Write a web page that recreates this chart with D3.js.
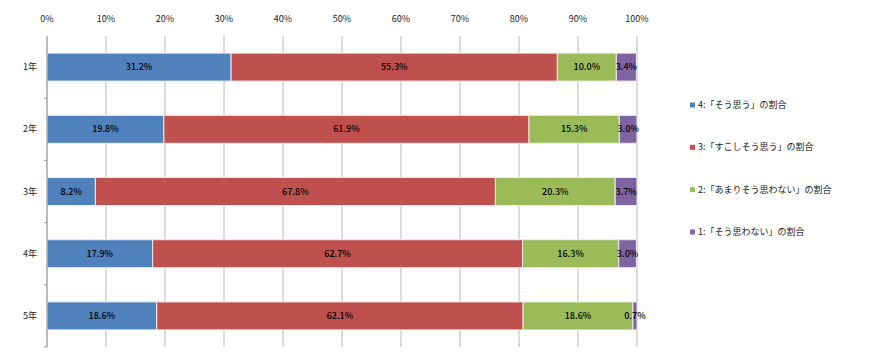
<!DOCTYPE html>
<html>
<head>
<meta charset="utf-8">
<script src="https://cdn.jsdelivr.net/npm/d3@7"></script>
<style>
  body { margin: 0; background: #fff; }
  text { font-family: "Noto Sans CJK JP", "DejaVu Sans", sans-serif; }
</style>
</head>
<body>
<div id="chart"></div>
<script>
// Data
var grades = ["1年", "2年", "3年", "4年", "5年"];
var seriesNames = ["4:「そう思う」の割合", "3:「すこしそう思う」の割合", "2:「あまりそう思わない」の割合", "1:「そう思わない」の割合"];
var s4 = [31.2, 19.8, 8.2, 17.9, 18.6];
var s3 = [55.3, 61.9, 67.8, 62.7, 62.1];
var s2 = [10.0, 15.3, 20.3, 16.3, 18.6];
var s1 = [3.4, 3.0, 3.7, 3.0, 0.7];
var colors = ["#4F81BD", "#C0504D", "#9BBB59", "#8064A2"];
var tickValues = [0, 10, 20, 30, 40, 50, 60, 70, 80, 90, 100];

var svgWidth = 870, svgHeight = 360;
var margin = { top: 36, left: 47 };
var chartWidth = 590, chartHeight = 311;

var svg = d3.select("#chart").append("svg")
  .attr("width", svgWidth)
  .attr("height", svgHeight);

var chartGroup = svg.append("g")
  .attr("transform", `translate(${margin.left}, ${margin.top})`);

var x = d3.scaleLinear().domain([0, 100]).range([0, chartWidth]);
var y = d3.scaleBand().domain(grades).range([0, chartHeight]).paddingInner(0.55).paddingOuter(0.275);
var yOuter = d3.scaleBand().domain(grades).range([0, chartHeight]);

// gridlines
chartGroup.selectAll(".grid")
  .data(tickValues)
  .enter().append("line")
  .attr("x1", d => x(d)).attr("x2", d => x(d))
  .attr("y1", 0).attr("y2", chartHeight)
  .attr("stroke", "#b8b8b8").attr("stroke-width", 1);

// top tick labels
chartGroup.selectAll(".xlab")
  .data(tickValues)
  .enter().append("text")
  .attr("x", d => x(d))
  .attr("y", -14)
  .attr("text-anchor", "middle")
  .attr("font-size", "9px")
  .attr("fill", "#222")
  .text(d => d + "%");

// left axis ticks at band boundaries
chartGroup.selectAll(".ytick")
  .data(grades)
  .enter().append("line")
  .attr("x1", -3).attr("x2", 0)
  .attr("y1", d => yOuter(d) + yOuter.bandwidth())
  .attr("y2", d => yOuter(d) + yOuter.bandwidth())
  .attr("stroke", "#999");

chartGroup.selectAll(".ylab")
  .data(grades)
  .enter().append("text")
  .attr("x", -10)
  .attr("y", d => y(d) + y.bandwidth() / 2)
  .attr("dy", "0.35em")
  .attr("text-anchor", "end")
  .attr("font-size", "9px")
  .attr("fill", "#222")
  .text(d => d);

// stacked bars
var allSeries = [s4, s3, s2, s1];
var rows = grades.map(function(g, i) {
  var row = { grade: g };
  allSeries.forEach(function(s, k) { row["k" + k] = s[i]; });
  return row;
});
var stack = d3.stack().keys(["k0", "k1", "k2", "k3"]);
var layers = stack(rows);

var layerGroups = chartGroup.selectAll(".layer")
  .data(layers)
  .enter().append("g")
  .attr("fill", (d, i) => colors[i]);

layerGroups.selectAll("rect")
  .data(d => d)
  .enter().append("rect")
  .attr("x", d => x(d[0]))
  .attr("y", d => y(d.data.grade))
  .attr("width", d => x(d[1]) - x(d[0]))
  .attr("height", y.bandwidth())
  .attr("stroke", "#eee")
  .attr("stroke-width", 1);

layerGroups.selectAll("text")
  .data(d => d)
  .enter().append("text")
  .attr("x", d => (x(d[0]) + x(d[1])) / 2)
  .attr("y", d => y(d.data.grade) + y.bandwidth() / 2)
  .attr("dy", "0.35em")
  .attr("text-anchor", "middle")
  .attr("font-size", "9px")
  .attr("font-weight", "500")
  .attr("fill", "#000")
  .text(d => (d[1] - d[0]).toFixed(1) + "%");

// left axis line
chartGroup.append("line")
  .attr("x1", 0).attr("x2", 0)
  .attr("y1", 0).attr("y2", chartHeight)
  .attr("stroke", "#999");

// legend
var legendY = d3.scalePoint().domain(seriesNames).range([105, 232]);
var legend = svg.append("g").attr("transform", "translate(690, 0)");
legend.selectAll("rect")
  .data(seriesNames)
  .enter().append("rect")
  .attr("x", 0)
  .attr("y", d => legendY(d) - 2.5)
  .attr("width", 5).attr("height", 5)
  .attr("fill", (d, i) => colors[i]);
legend.selectAll("text")
  .data(seriesNames)
  .enter().append("text")
  .attr("x", 8)
  .attr("y", d => legendY(d))
  .attr("dy", "0.35em")
  .attr("font-size", "9px")
  .attr("fill", "#222")
  .text(d => d);
</script>
</body>
</html>
